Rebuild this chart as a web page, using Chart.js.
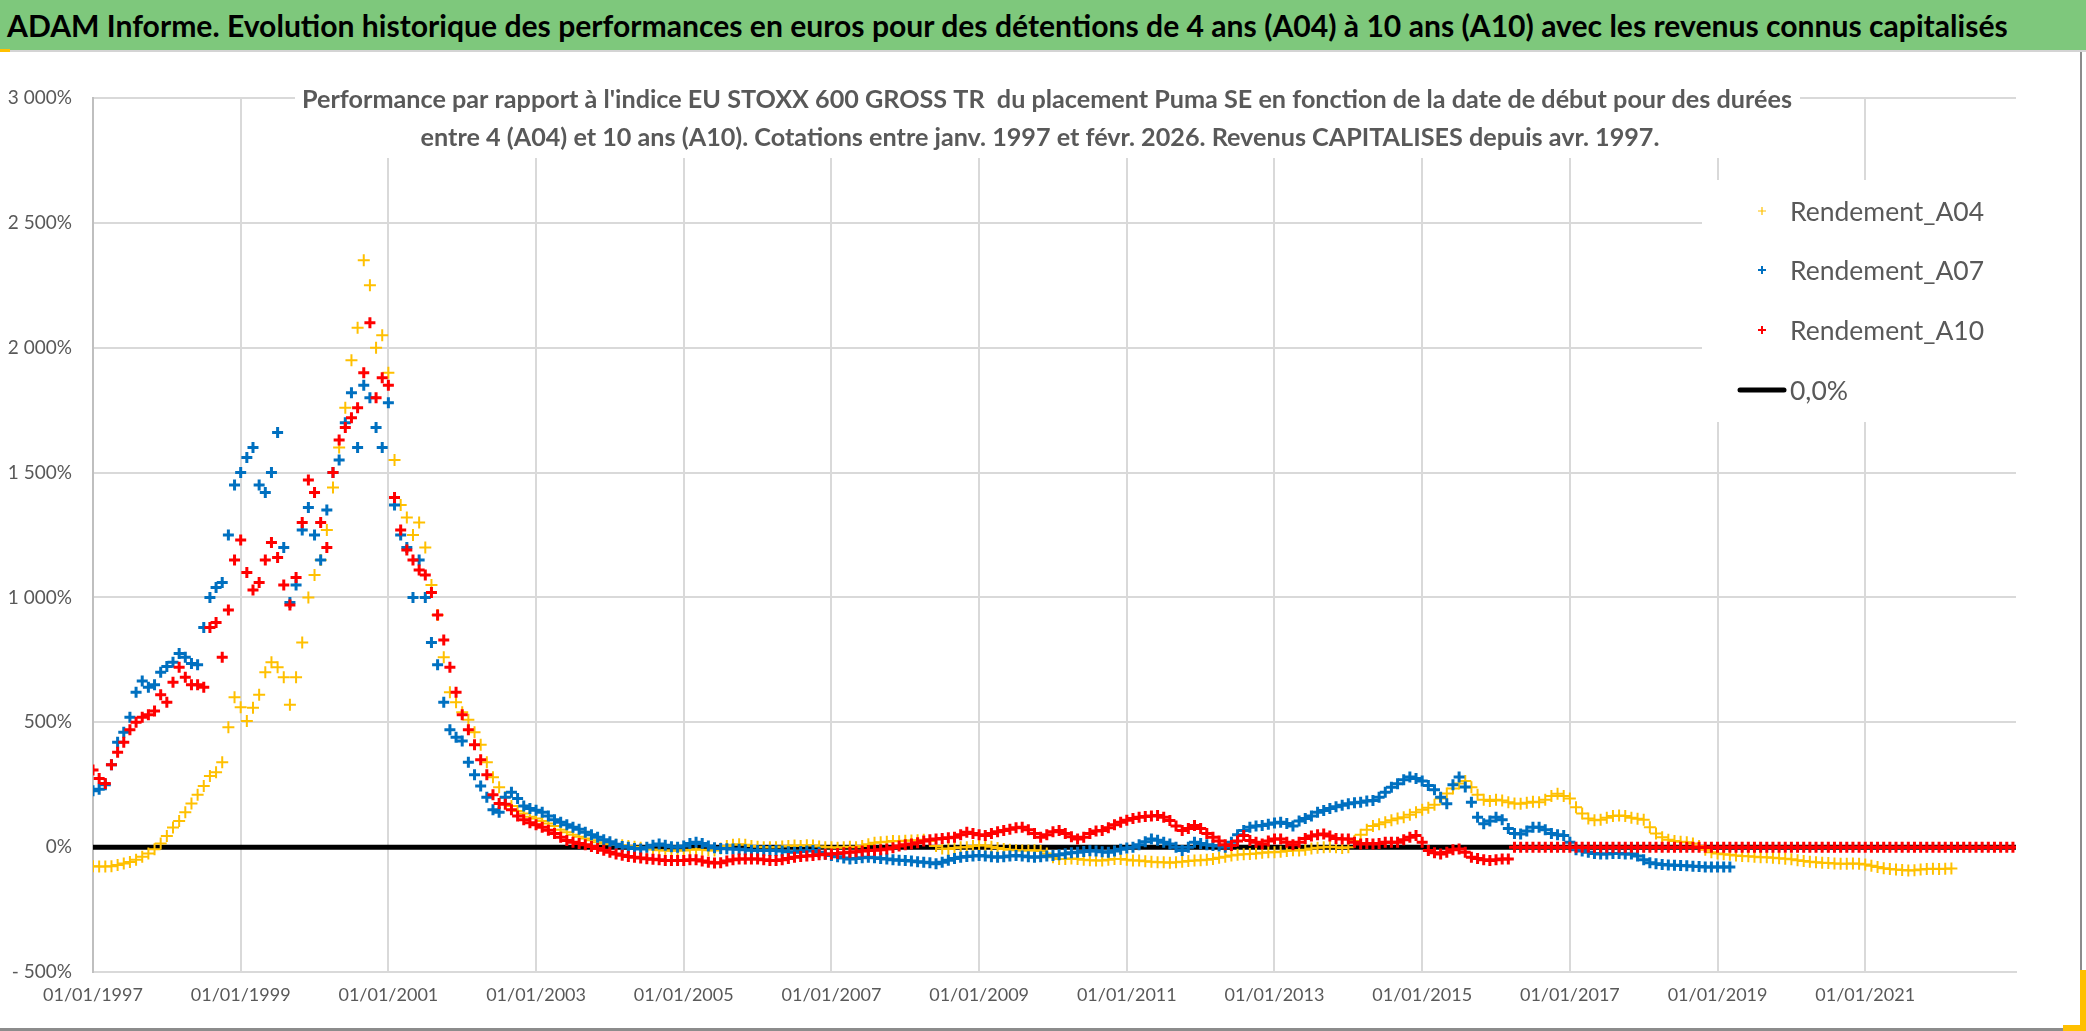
<!DOCTYPE html>
<html>
<head>
<meta charset="utf-8">
<script src="https://cdn.jsdelivr.net/npm/chart.js@4.4.1/dist/chart.umd.min.js"></script>
<style>
    html, body { margin: 0; padding: 0; background: #fff; }
    body { width: 2086px; height: 1031px; position: relative; overflow: hidden; font-family: Lato, sans-serif; }
    #head { position: absolute; left: 0; top: 0; width: 2086px; height: 50px; background: #7ec87c; border-bottom: 2px solid #d4d4d4; }
    #head h1 { margin: 0; padding-left: 7px; font: bold 28px Lato, sans-serif; line-height: 50px; color: #000; white-space: nowrap; }
    #head h1 span { display: inline-block; }
    #box { position: absolute; left: 0; top: 52px; width: 2080px; height: 976px; border-right: 2px solid #8c8c8c; border-bottom: 3px solid #8c8c8c; }
    .handle { position: absolute; background: #ffc000; }
</style>
</head>
<body>
<div id="head"><h1><span id="mainTitle">ADAM Informe. Evolution historique des performances en euros pour des détentions de 4 ans (A04) à 10 ans (A10) avec les revenus connus capitalisés</span></h1></div>
<div id="box"><canvas id="perfChart" width="2080" height="976"></canvas></div>
<div class="handle" style="left:0;top:49px;width:10px;height:3px"></div>
<div class="handle" style="left:2080px;top:970px;width:6px;height:61px"></div>
<div class="handle" style="left:2063px;top:1025px;width:23px;height:6px"></div>
<script>
// one value per month, starting 01/1997 (x = months since 01/01/1997)
const rendementA04 = [
    -77, -78, -78, -77, -72, -66, -59, -50, -38, -25, -8, 15,
    45, 79, 105, 140, 175, 210, 245, 285, 300, 340, 480, 600,
    560, 505, 558, 610, 700, 740, 720, 680, 570, 680, 820, 1000,
    1090, 1150, 1270, 1440, 1600, 1760, 1950, 2080, 2350, 2250, 2000, 2050,
    1900, 1550, 1370, 1320, 1250, 1300, 1200, 1050, 930, 760, 620, 580,
    540, 510, 460, 410, 340, 280, 240, 200, 165, 145, 135, 122,
    115, 105, 95, 85, 70, 60, 50, 42, 35, 28, 20, 15,
    12, 10, 8, 5, 2, -2, -6, -9, -12, -13, -14, -13,
    -13, -10, -8, -10, -12, -13, -5, 5, 10, 12, 10, 5,
    2, 0, 0, 0, 3, 5, 7, 5, 8, 7, 3, 0,
    0, -2, 0, 2, 0, 5, 12, 18, 20, 22, 25, 24,
    26, 27, 28, 30, 25, 5, -5, -7, -3, 0, 0, 5,
    8, 7, 2, -3, -7, -10, -12, -13, -13, -12, -15, -25,
    -40, -47, -47, -45, -47, -50, -52, -53, -53, -50, -47, -47,
    -50, -53, -53, -56, -58, -60, -60, -62, -60, -58, -55, -53,
    -52, -50, -47, -42, -38, -33, -30, -28, -27, -25, -22, -20,
    -20, -18, -15, -12, -13, -10, -5, -2, 0, 2, 0, -3,
    0, 25, 50, 70, 85, 92, 100, 108, 115, 120, 130, 140,
    150, 158, 170, 195, 215, 235, 255, 265, 240, 210, 190, 185,
    190, 187, 180, 175, 174, 178, 182, 180, 190, 205, 214, 205,
    195, 160, 135, 115, 108, 110, 118, 125, 127, 125, 118, 114,
    110, 80, 55, 40, 30, 25, 22, 20, 15, 5, -10, -20,
    -25, -28, -30, -33, -35, -36, -38, -40, -40, -42, -44, -46,
    -48, -52, -55, -58, -60, -62, -64, -66, -67, -67, -66, -67,
    -70, -75, -80, -85, -88, -90, -92, -94, -93, -90, -88, -87,
    -88, -87, -86
];

const rendementA07 = [
    226, 232, 250, 330, 420, 460, 520, 620, 665, 640, 650, 700,
    723, 740, 775, 760, 735, 730, 880, 1000, 1040, 1060, 1250, 1450,
    1500, 1560, 1600, 1450, 1420, 1500, 1660, 1200, 980, 1050, 1270, 1360,
    1250, 1150, 1350, 1500, 1550, 1700, 1820, 1600, 1850, 1800, 1680, 1600,
    1780, 1370, 1250, 1200, 1000, 1150, 1000, 820, 730, 580, 470, 440,
    425, 340, 290, 245, 200, 150, 140, 200, 220, 195, 165, 155,
    148, 140, 125, 110, 100, 90, 80, 72, 60, 50, 40, 30,
    22, 12, 3, 0, -5, -7, 0, 8, 13, 8, 2, 0,
    5, 15, 20, 15, 5, -2, -5, -6, -7, -8, -10, -12,
    -13, -13, -13, -13, -15, -18, -20, -17, -15, -13, -20, -28,
    -33, -38, -43, -47, -45, -42, -40, -42, -45, -47, -50, -52,
    -53, -55, -58, -60, -62, -67, -60, -52, -45, -40, -37, -35,
    -33, -35, -38, -40, -38, -35, -33, -35, -38, -40, -38, -35,
    -33, -30, -26, -22, -20, -17, -14, -15, -18, -20, -15, -8,
    -3, 0, 10, 22, 33, 28, 20, 13, 0, -13, 0, 20,
    15, 10, 7, 5, 0, 20, 50, 67, 80, 85, 87, 92,
    97, 100, 95, 85, 105, 115, 125, 140, 147, 155, 162, 168,
    174, 178, 180, 185, 187, 200, 220, 240, 254, 270, 281, 275,
    265, 247, 230, 200, 174, 250, 281, 241, 180, 120, 94, 105,
    120, 110, 75, 55, 53, 65, 80, 80, 70, 55, 50, 47,
    20, -10, -15, -20, -25, -27, -27, -25, -25, -27, -27, -35,
    -50, -62, -67, -70, -72, -73, -74, -75, -77, -78, -80, -80,
    -80, -80, -80
];

// A10: after 03/2016 the sheet holds 0 up to the end of the axis
const rendementA10 = [
    309, 275, 255, 330, 380, 420, 470, 500, 520, 530, 545, 610,
    580, 660, 720, 680, 650, 650, 640, 880, 900, 760, 950, 1150,
    1230, 1100, 1030, 1060, 1150, 1220, 1160, 1050, 970, 1080, 1300, 1470,
    1420, 1300, 1200, 1500, 1630, 1680, 1720, 1760, 1900, 2100, 1800, 1880,
    1850, 1400, 1270, 1190, 1150, 1110, 1090, 1020, 930, 830, 720, 620,
    530, 470, 410, 350, 290, 210, 175, 172, 150, 125, 110, 98,
    90, 80, 68, 55, 40, 27, 20, 15, 10, 3, -5, -12,
    -20, -27, -32, -37, -40, -43, -46, -48, -50, -53, -53, -53,
    -53, -50, -50, -55, -60, -64, -62, -55, -50, -47, -47, -47,
    -47, -50, -53, -53, -50, -45, -40, -37, -35, -33, -30, -28,
    -27, -25, -22, -20, -18, -15, -13, -12, -10, -7, -2, 5,
    10, 13, 18, 25, 30, 33, 35, 38, 40, 50, 60, 55,
    50, 47, 55, 62, 67, 72, 78, 80, 70, 55, 40, 50,
    62, 67, 55, 42, 33, 40, 55, 65, 67, 78, 90, 100,
    108, 115, 120, 123, 125, 127, 120, 107, 85, 67, 75, 87,
    75, 55, 40, 25, 10, 7, 25, 47, 27, 20, 13, 25,
    33, 33, 20, 10, 20, 35, 45, 50, 53, 45, 35, 33,
    33, 20, 13, 15, 13, 15, 20, 20, 20, 30, 40, 47,
    20, -13, -22, -27, -20, -10, -7, -20, -40, -45, -50, -53,
    -50, -47, -47, 0, 0, 0, 0, 0, 0, 0, 0, 0,
    0, 0, 0, 0, 0, 0, 0, 0, 0, 0, 0, 0,
    0, 0, 0, 0, 0, 0, 0, 0, 0, 0, 0, 0,
    0, 0, 0, 0, 0, 0, 0, 0, 0, 0, 0, 0,
    0, 0, 0, 0, 0, 0, 0, 0, 0, 0, 0, 0,
    0, 0, 0, 0, 0, 0, 0, 0, 0, 0, 0, 0,
    0, 0, 0, 0, 0, 0, 0, 0, 0, 0, 0, 0,
    0
];

const zeroMonths = [0, 312.5];
const zeroValues = [0, 0];

const xTickLabels = ['01/01/1997', '01/01/1999', '01/01/2001', '01/01/2003', '01/01/2005', '01/01/2007',
    '01/01/2009', '01/01/2011', '01/01/2013', '01/01/2015', '01/01/2017', '01/01/2019', '01/01/2021'];
const monthsPerTick = 24;
const xMax = 312.5;

const seriesNames = ['Rendement_A04', 'Rendement_A07', 'Rendement_A10', '0,0%'];
const seriesColors = ['#FFC000', '#0070C0', '#FF0000', '#000000'];

const subtitleLines = [
    "Performance par rapport à l'indice EU STOXX 600 GROSS TR  du placement Puma SE en fonction de la date de début pour des durées",
    "entre 4 (A04) et 10 ans (A10). Cotations entre janv. 1997 et févr. 2026. Revenus CAPITALISES depuis avr. 1997."
];

// the banner title runs across nearly the whole width
const titleSpan = document.getElementById('mainTitle');
titleSpan.style.fontSize = (28 * 2002 / titleSpan.offsetWidth) + 'px';

function toPoints(values) {
    return values.map((v, i) => ({ x: i, y: v }));
}

function pct(value) {
    const s = String(Math.abs(value)).replace(/\B(?=(\d{3})+(?!\d))/g, ' ');
    return (value < 0 ? '- ' : '') + s + '%';
}

// subtitle and legend boxes sit on the plot area (over the grid, under the marks)
const overlayPlugin = {
    id: 'overlay',
    beforeDatasetsDraw(chart) {
        const c = chart.ctx;
        const area = chart.chartArea;
        c.save();

        // subtitle
        c.fillStyle = '#ffffff';
        c.fillRect(295, area.top - 16, 1505, 76);
        c.fillStyle = '#595959';
        c.font = 'bold 25.2px Lato';
        c.textAlign = 'center';
        c.textBaseline = 'middle';
        c.fillText(subtitleLines[0], 1047, area.top + 2);
        c.fillText(subtitleLines[1], 1040, area.top + 40);

        // legend
        c.fillStyle = '#ffffff';
        c.fillRect(1702, 128, 318, 242);
        c.font = '26.5px Lato';
        c.textAlign = 'left';
        const rows = [159, 218, 278, 338];
        seriesNames.forEach((name, i) => {
            const y = rows[i];
            c.strokeStyle = seriesColors[i];
            if (i < 3) {
                c.lineWidth = i === 0 ? 1.2 : 2;
                c.beginPath();
                c.moveTo(1758, y); c.lineTo(1766, y);
                c.moveTo(1762, y - 4); c.lineTo(1762, y + 4);
                c.stroke();
            } else {
                c.lineWidth = 5;
                c.lineCap = 'round';
                c.beginPath();
                c.moveTo(1740, y); c.lineTo(1784, y);
                c.stroke();
            }
            c.fillStyle = '#595959';
            c.fillText(name, 1790, y + 1);
        });
        c.restore();
    }
};

const ctx = document.getElementById('perfChart');

new Chart(ctx, {
    type: 'scatter',
    data: {
        datasets: [
            {
                label: seriesNames[0],
                data: toPoints(rendementA04),
                pointStyle: 'cross',
                pointRadius: 6,
                borderColor: seriesColors[0],
                backgroundColor: seriesColors[0],
                borderWidth: 2,
                order: 3
            },
            {
                label: seriesNames[1],
                data: toPoints(rendementA07),
                pointStyle: 'cross',
                pointRadius: 5.5,
                borderColor: seriesColors[1],
                backgroundColor: seriesColors[1],
                borderWidth: 3,
                order: 2
            },
            {
                label: seriesNames[2],
                data: toPoints(rendementA10),
                pointStyle: 'cross',
                pointRadius: 5.5,
                borderColor: seriesColors[2],
                backgroundColor: seriesColors[2],
                borderWidth: 3,
                order: 1
            },
            {
                label: seriesNames[3],
                type: 'line',
                data: zeroMonths.map((m, i) => ({ x: m, y: zeroValues[i] })),
                borderColor: seriesColors[3],
                borderWidth: 5,
                pointRadius: 0,
                order: 4
            }
        ]
    },
    options: {
        responsive: false,
        animation: false,
        devicePixelRatio: 1,
        layout: { padding: { top: 46, right: 64, left: 0, bottom: 0 } },
        plugins: {
            legend: { display: false },
            tooltip: { enabled: false }
        },
        scales: {
            x: {
                type: 'linear',
                min: 0,
                max: xMax,
                afterBuildTicks: scale => {
                    scale.ticks = xTickLabels.map((_, i) => ({ value: i * monthsPerTick }));
                },
                afterFit: scale => { scale.height = 56; },
                ticks: {
                    autoSkip: false,
                    maxRotation: 0,
                    padding: 12,
                    color: '#595959',
                    font: { family: 'Lato', size: 18 },
                    callback: value => xTickLabels[Math.round(value / monthsPerTick)]
                },
                grid: { color: '#d9d9d9', lineWidth: 2, drawTicks: false },
                border: { color: '#d9d9d9', width: 2 }
            },
            y: {
                min: -500,
                max: 3000,
                afterFit: scale => { scale.width = 93; },
                ticks: {
                    stepSize: 500,
                    padding: 21,
                    color: '#595959',
                    font: { family: 'Lato', size: 19 },
                    callback: value => pct(value)
                },
                grid: { color: '#d9d9d9', lineWidth: 2, drawTicks: false },
                border: { color: '#bfbfbf', width: 2 }
            }
        }
    },
    plugins: [overlayPlugin]
});
</script>
</body>
</html>
